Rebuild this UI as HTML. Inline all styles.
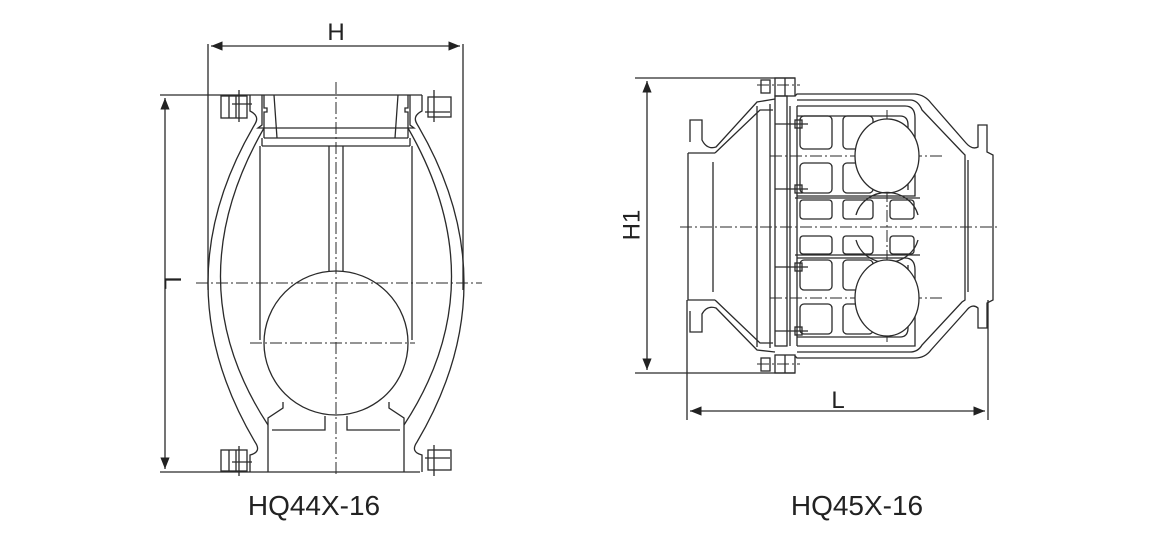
<!DOCTYPE html>
<html><head><meta charset="utf-8"><style>
html,body{margin:0;padding:0;background:#fff;}
svg{display:block;}
text{font-family:"Liberation Sans","Noto Sans CJK SC",sans-serif;fill:#222;}
</style></head><body>
<svg width="1158" height="540" viewBox="0 0 1158 540" xmlns="http://www.w3.org/2000/svg">
<defs>
<marker id="a" viewBox="0 0 10 10" refX="10" refY="5" markerWidth="9" markerHeight="9" orient="auto-start-reverse"><path d="M0,1 L10,5 L0,9 z" fill="#222"/></marker>
</defs>
<g fill="none" stroke="#2a2a2a" stroke-width="1.3">
<line x1="208" y1="44" x2="208" y2="290"/>
<line x1="463" y1="44" x2="463" y2="290"/>
<line x1="211" y1="46" x2="460" y2="46" marker-start="url(#a)" marker-end="url(#a)"/>
<line x1="160" y1="95" x2="422" y2="95"/>
<line x1="160" y1="472" x2="420" y2="472"/>
<line x1="165" y1="98" x2="165" y2="469" marker-start="url(#a)" marker-end="url(#a)"/>
<g stroke-dasharray="12 3 2 3" stroke-width="1">
<line x1="336" y1="82" x2="336" y2="476"/>
<line x1="196" y1="283" x2="482" y2="283"/>
<line x1="250" y1="343" x2="415" y2="343"/>
</g>
<path d="M250,95 L250,111 Q260,116 255,124 Q161,283 255,442 Q262,452 250,455 L250,472"/>
<path d="M422,95 L422,111 Q412,116 417,124 Q511,283 417,442 Q410,452 422,455 L422,472"/>
<path d="M264,128 Q175,283 268,425"/>
<path d="M408,128 Q497,283 404,425"/>
<path d="M262,95 L262,125 L258,128 L414,128 L410,125 L410,95"/>
<path d="M264,95 L264,108 L267,108 L267,112 L264,112 L264,138"/>
<path d="M408,95 L408,108 L405,108 L405,112 L408,112 L408,138"/>
<path d="M274,95 L277,138 M398,95 L395,138"/>
<line x1="264" y1="138" x2="408" y2="138"/>
<line x1="262" y1="146" x2="410" y2="146"/>
<path d="M262,138 L262,146 M410,138 L410,146"/>
<line x1="260" y1="146" x2="260" y2="340"/>
<line x1="412" y1="146" x2="412" y2="340"/>
<path d="M329,146 L329,272 M343,146 L343,272"/>
<circle cx="336" cy="343" r="72"/>
<path d="M283,402 L283,408 L268,418 L268,472"/>
<path d="M389,402 L389,408 L404,418 L404,472"/>
<path d="M325,416 L325,430 L272,430 M347,416 L347,430 L400,430"/>
<rect x="221" y="96" width="26" height="22"/>
<path d="M229,96 L229,118 M236,96 L236,118 M239,90 L239,122 M232,104 L252,104"/>
<rect x="221" y="450" width="26" height="21"/>
<path d="M229,450 L229,471 M236,450 L236,471 M239,446 L239,476 M232,462 L252,462"/>
<rect x="428" y="97" width="23" height="20"/>
<path d="M434,90 L434,122 M425,112 L450,112"/>
<rect x="428" y="450" width="23" height="20"/>
<path d="M434,445 L434,476 M425,458 L450,458"/>

<line x1="635" y1="78" x2="795" y2="78"/>
<line x1="635" y1="373" x2="795" y2="373"/>
<line x1="647" y1="81" x2="647" y2="370" marker-start="url(#a)" marker-end="url(#a)"/>
<line x1="687" y1="300" x2="687" y2="420"/>
<line x1="988" y1="300" x2="988" y2="420"/>
<line x1="690" y1="411" x2="985" y2="411" marker-start="url(#a)" marker-end="url(#a)"/>
<g stroke-dasharray="12 3 2 3" stroke-width="1">
<line x1="680" y1="227" x2="1000" y2="227"/>
<line x1="770" y1="156" x2="945" y2="156"/>
<line x1="770" y1="298" x2="945" y2="298"/>
<line x1="887" y1="110" x2="887" y2="345"/>
<line x1="757" y1="85" x2="800" y2="85"/>
<line x1="757" y1="364" x2="800" y2="364"/>
</g>
<path d="M688,153 L688,300 L715,300"/>
<path d="M688,153 L715,153"/>
<path d="M690,142 L690,120 L702,120 L702,140 Q707,150 716,147 L757,102 L775,99"/>
<path d="M690,311 L690,332 L702,332 L702,314 Q707,305 716,308 L757,350 L775,352"/>
<path d="M715,153 L760,110 L773,110 M715,300 L760,343 L773,343"/>
<line x1="713" y1="162" x2="713" y2="292"/>
<line x1="757" y1="106" x2="757" y2="347"/>
<line x1="770" y1="104" x2="770" y2="348"/>
<rect x="775" y="96" width="12" height="250"/>
<rect x="775" y="78" width="20" height="18"/>
<rect x="775" y="355" width="20" height="18"/>
<rect x="761" y="80" width="9" height="13"/>
<rect x="761" y="358" width="9" height="13"/>
<path d="M785,78 L785,96 M785,355 L785,373"/>
<path d="M795,96 L797,94 L915,94 Q925,95 931,103 L966,143 Q972,150 978,147 L978,125 L987,125 L987,152 L993,155 L993,300 L987,303 L987,328 L978,328 L978,308 Q972,303 966,311 L931,350 Q925,358 915,358 L797,358 L795,356"/>
<path d="M797,100 L910,100 Q918,100 922,110 L962,152 L965,155 L965,300 L962,302 L922,345 Q918,352 910,352 L797,352"/>
<line x1="968" y1="160" x2="968" y2="292"/>
<path d="M797,106 L905,106 Q915,106 915,118 L915,196 L797,196"/>
<path d="M797,116 L900,116 Q908,116 908,125 L908,190"/>
<path d="M797,258 L905,258 Q915,258 915,270 L915,346 L797,346"/>
<path d="M797,337 L900,337 Q908,337 908,328 L908,265"/>
<path d="M795,198 L920,198 M795,255 L920,255"/>
<path d="M790,106 L790,346 M797,106 L797,346"/>
<g>
<rect x="800" y="116" width="32" height="33" rx="4"/>
<rect x="843" y="116" width="30" height="33" rx="4"/>
<rect x="800" y="163" width="32" height="30" rx="4"/>
<rect x="843" y="163" width="30" height="30" rx="4"/>
<rect x="800" y="200" width="32" height="19" rx="3"/>
<rect x="843" y="200" width="30" height="19" rx="3"/>
<rect x="890" y="200" width="24" height="19" rx="3"/>
<rect x="800" y="236" width="32" height="18" rx="3"/>
<rect x="843" y="236" width="30" height="18" rx="3"/>
<rect x="890" y="236" width="24" height="18" rx="3"/>
<rect x="800" y="260" width="32" height="30" rx="4"/>
<rect x="843" y="260" width="30" height="30" rx="4"/>
<rect x="800" y="304" width="32" height="30" rx="4"/>
<rect x="843" y="304" width="30" height="30" rx="4"/>
</g>
<ellipse cx="887" cy="156" rx="32" ry="37" fill="#fff"/>
<path d="M856,215 A32,30 0 0 1 918,215 M856,240 A32,30 0 0 0 918,240"/>
<ellipse cx="887" cy="298" rx="32" ry="38" fill="#fff"/>
<g>
<rect x="795" y="120" width="7" height="8"/><line x1="775" y1="124" x2="808" y2="124"/>
<rect x="795" y="185" width="7" height="8"/><line x1="775" y1="189" x2="808" y2="189"/>
<rect x="795" y="263" width="7" height="8"/><line x1="775" y1="267" x2="808" y2="267"/>
<rect x="795" y="327" width="7" height="8"/><line x1="775" y1="331" x2="808" y2="331"/>
</g>
</g>
<text x="0" y="0" font-size="24" transform="translate(172,283) rotate(90)" text-anchor="middle" dominant-baseline="central">L</text>
<text x="336" y="40" font-size="24" text-anchor="middle">H</text>
<text x="0" y="0" font-size="24" transform="translate(632,225) rotate(-90)" text-anchor="middle" dominant-baseline="central">H1</text>
<text x="838" y="408" font-size="24" text-anchor="middle">L</text>
<text x="314" y="515" font-size="28" text-anchor="middle">HQ44X-16</text>
<text x="857" y="515" font-size="28" text-anchor="middle">HQ45X-16</text>
</svg>
</body></html>
